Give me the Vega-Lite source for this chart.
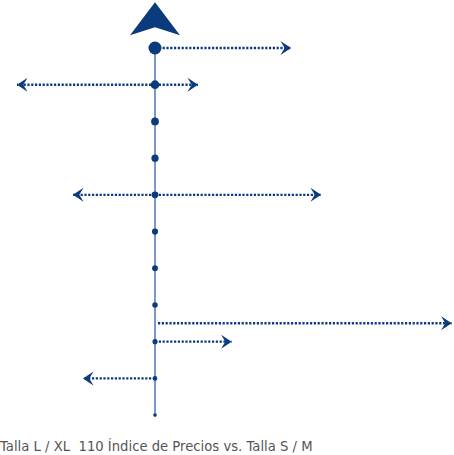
{
  "$schema": "https://vega.github.io/schema/vega-lite/v6.json",
  "width": 454,
  "height": 425,
  "padding": {"left": 0, "top": 0, "right": 0, "bottom": 30},
  "autosize": "none",
  "background": "white",
  "config": {"view": {"stroke": null}},
  "title": {
    "text": "Talla L / XL \u00a0110 Índice de Precios vs. Talla S / M",
    "orient": "bottom",
    "anchor": "start",
    "font": "DejaVu Sans",
    "fontSize": 13.2,
    "fontWeight": "normal",
    "color": "#555555",
    "offset": 16
  },
  "datasets": {
    "spine": [{"x": 110, "i": 0, "i2": 10}],
    "points": [
      {"i": 0, "x": 110, "size": 169},
      {"i": 1, "x": 110, "size": 76},
      {"i": 2, "x": 110, "size": 60},
      {"i": 3, "x": 110, "size": 52},
      {"i": 4, "x": 110, "size": 46},
      {"i": 5, "x": 110, "size": 38},
      {"i": 6, "x": 110, "size": 34},
      {"i": 7, "x": 110, "size": 30},
      {"i": 8, "x": 110, "size": 26},
      {"i": 9, "x": 110, "size": 21},
      {"i": 10, "x": 110, "size": 13}
    ],
    "arrows": [
      {"i": 0, "start": 110, "end": 178, "dir": "right"},
      {"i": 1, "start": 110, "end": 41, "dir": "left"},
      {"i": 1, "start": 110, "end": 131.5, "dir": "right"},
      {"i": 4, "start": 110, "end": 69, "dir": "left"},
      {"i": 4, "start": 110, "end": 193, "dir": "right"},
      {"i": 7.5, "start": 111.5, "end": 258.3, "dir": "right"},
      {"i": 8, "start": 110, "end": 148.3, "dir": "right"},
      {"i": 9, "start": 110, "end": 74, "dir": "left"}
    ],
    "top": [{"i": -1.25, "x": 110}]
  },
  "layer": [
    {
      "data": {"name": "spine"},
      "mark": {"type": "rule", "color": "#7a97c5", "strokeWidth": 2},
      "encoding": {
        "x": {"field": "x", "type": "quantitative", "scale": {"domain": [32.5, 259.5], "nice": false, "zero": false}, "axis": null},
        "y": {"field": "i", "type": "quantitative", "scale": {"domain": [-1.308, 10.27], "reverse": true, "nice": false, "zero": false}, "axis": null},
        "y2": {"field": "i2"}
      }
    },
    {
      "data": {"name": "arrows"},
      "mark": {"type": "rule", "color": "#0a3b7d", "strokeWidth": 2.4, "strokeDash": [2.2, 1.6]},
      "encoding": {
        "x": {"field": "start", "type": "quantitative", "scale": {"domain": [32.5, 259.5], "nice": false, "zero": false}, "axis": null},
        "x2": {"field": "end"},
        "y": {"field": "i", "type": "quantitative", "scale": {"domain": [-1.308, 10.27], "reverse": true, "nice": false, "zero": false}, "axis": null}
      }
    },
    {
      "data": {"name": "points"},
      "mark": {"type": "point", "shape": "circle", "filled": true, "opacity": 1, "color": "#0a3b7d", "strokeWidth": 0},
      "encoding": {
        "x": {"field": "x", "type": "quantitative", "scale": {"domain": [32.5, 259.5], "nice": false, "zero": false}, "axis": null},
        "y": {"field": "i", "type": "quantitative", "scale": {"domain": [-1.308, 10.27], "reverse": true, "nice": false, "zero": false}, "axis": null},
        "size": {"field": "size", "type": "quantitative", "scale": null}
      }
    },
    {
      "data": {"name": "arrows"},
      "mark": {"type": "point", "filled": true, "opacity": 1, "color": "#0a3b7d", "strokeWidth": 0, "size": 196},
      "encoding": {
        "x": {"field": "end", "type": "quantitative", "scale": {"domain": [32.5, 259.5], "nice": false, "zero": false}, "axis": null},
        "y": {"field": "i", "type": "quantitative", "scale": {"domain": [-1.308, 10.27], "reverse": true, "nice": false, "zero": false}, "axis": null},
        "shape": {
          "field": "dir",
          "type": "nominal",
          "scale": {"domain": ["right", "left"], "range": ["M0,0L-1.5,-1L-0.9,0L-1.5,1Z", "M0,0L1.5,-1L0.9,0L1.5,1Z"]},
          "legend": null
        }
      }
    },
    {
      "data": {"name": "top"},
      "mark": {"type": "point", "filled": true, "opacity": 1, "color": "#0a3b7d", "strokeWidth": 0, "size": 2500, "shape": "M0,0L1,1.32L0,1L-1,1.32Z"},
      "encoding": {
        "x": {"field": "x", "type": "quantitative", "scale": {"domain": [32.5, 259.5], "nice": false, "zero": false}, "axis": null},
        "y": {"field": "i", "type": "quantitative", "scale": {"domain": [-1.308, 10.27], "reverse": true, "nice": false, "zero": false}, "axis": null}
      }
    }
  ]
}
